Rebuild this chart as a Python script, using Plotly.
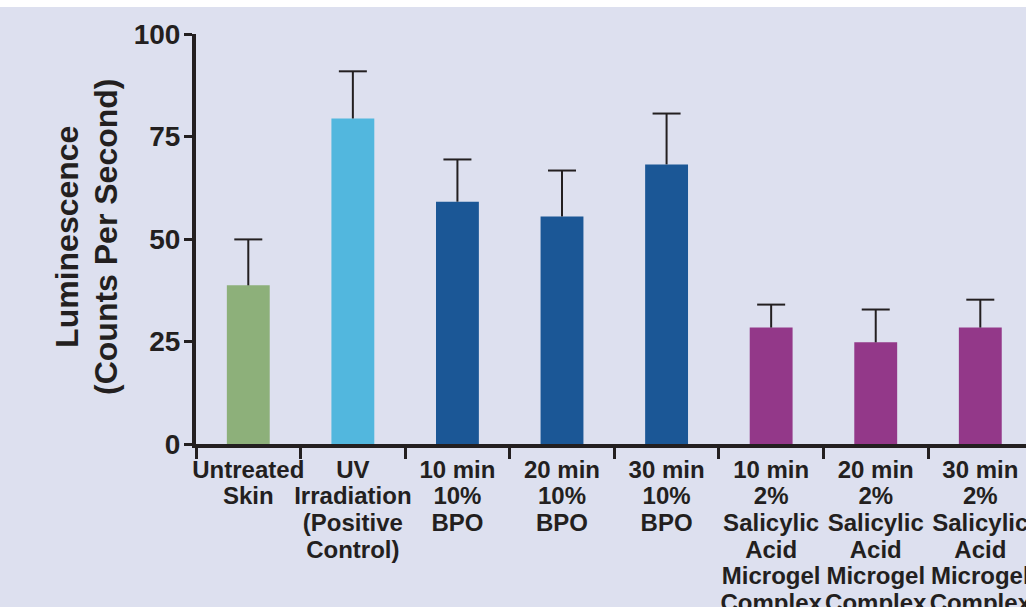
import plotly.graph_objects as go

# ---- data ----
categories = ["Untreated Skin", "UV Irradiation", "10 min BPO", "20 min BPO", "30 min BPO",
              "10 min SA", "20 min SA", "30 min SA"]
tick_labels = [
    "Untreated<br>Skin",
    "UV<br>Irradiation<br>(Positive<br>Control)",
    "10 min<br>10%<br>BPO",
    "20 min<br>10%<br>BPO",
    "30 min<br>10%<br>BPO",
    "10 min<br>2%<br>Salicylic<br>Acid<br>Microgel<br>Complex",
    "20 min<br>2%<br>Salicylic<br>Acid<br>Microgel<br>Complex",
    "30 min<br>2%<br>Salicylic<br>Acid<br>Microgel<br>Complex",
]
values = [38.7, 79.4, 59.1, 55.5, 68.2, 28.4, 24.8, 28.4]
errors = [11.2, 11.5, 10.3, 11.2, 12.4, 5.6, 8.0, 6.8]
bar_colors = ["#8db07a", "#52b7de", "#1b5796", "#1b5796", "#1b5796",
              "#933889", "#933889", "#933889"]
y_ticks = [0, 25, 50, 75, 100]
y_title = "Luminescence<br>(Counts Per Second)"

# ---- style ----
FONT = "Liberation Sans, Arial, Helvetica, sans-serif"
INK = "#231f20"
BG = "#dde0ef"

def fmt_lines(s, size):
    return "<br>".join(f"<span style='font-size:{size}px'>{ln}</span>" for ln in s.split("<br>"))

fig = go.Figure()
fig.add_trace(go.Bar(
    x=categories, y=values, width=0.41,
    marker=dict(color=bar_colors, line=dict(width=0)),
    error_y=dict(type="data", array=errors, arrayminus=[0] * len(errors), symmetric=False,
                 color=INK, thickness=2, width=0),
    showlegend=False, hoverinfo="x+y",
))
# caps of the error bars (top only)
fig.add_trace(go.Scatter(
    x=categories, y=[v + e for v, e in zip(values, errors)], mode="markers",
    marker=dict(symbol="line-ew", size=20, line=dict(width=2, color=INK)),
    showlegend=False, hoverinfo="skip",
))

fig.update_layout(
    width=1026, height=607,
    margin=dict(l=196, r=0, t=34, b=163, pad=0),
    paper_bgcolor=BG, plot_bgcolor=BG,
    font=dict(family=FONT, color=INK),
    xaxis=dict(
        type="category", range=[-0.5, 7.437], automargin=False,
        tickmode="array", tickvals=categories, ticktext=[fmt_lines(t, 24) for t in tick_labels],
        tickson="boundaries", ticks="outside", ticklen=11, tickwidth=3, tickcolor=INK,
        ticklabelstandoff=5,
        tickangle=0, tickfont=dict(family=FONT, size=20.5, color=INK, weight="bold"),
        showline=True, linewidth=4, linecolor=INK, showgrid=False, zeroline=False,
    ),
    yaxis=dict(
        range=[0, 100], automargin=False,
        tickmode="array", tickvals=y_ticks, ticktext=[str(v) for v in y_ticks],
        ticks="outside", ticklen=8, tickwidth=3, tickcolor=INK, ticklabelstandoff=-2,
        tickfont=dict(family=FONT, size=28, color=INK, weight="bold"),
        showline=True, linewidth=4, linecolor=INK, showgrid=False, zeroline=False,
    ),
    annotations=[dict(
        text=fmt_lines(y_title, 32), xref="paper", yref="paper", x=-0.132, y=0.506,
        xanchor="center", yanchor="middle", textangle=-90, showarrow=False,
        font=dict(family=FONT, size=30, color=INK, weight="bold"),
    )],
    shapes=[dict(type="rect", xref="paper", yref="paper", x0=-0.5, x1=1.5,
                 y0=1.0659, y1=1.3, fillcolor="white", line=dict(width=0), layer="below")],
)

fig.write_html("out.html")
